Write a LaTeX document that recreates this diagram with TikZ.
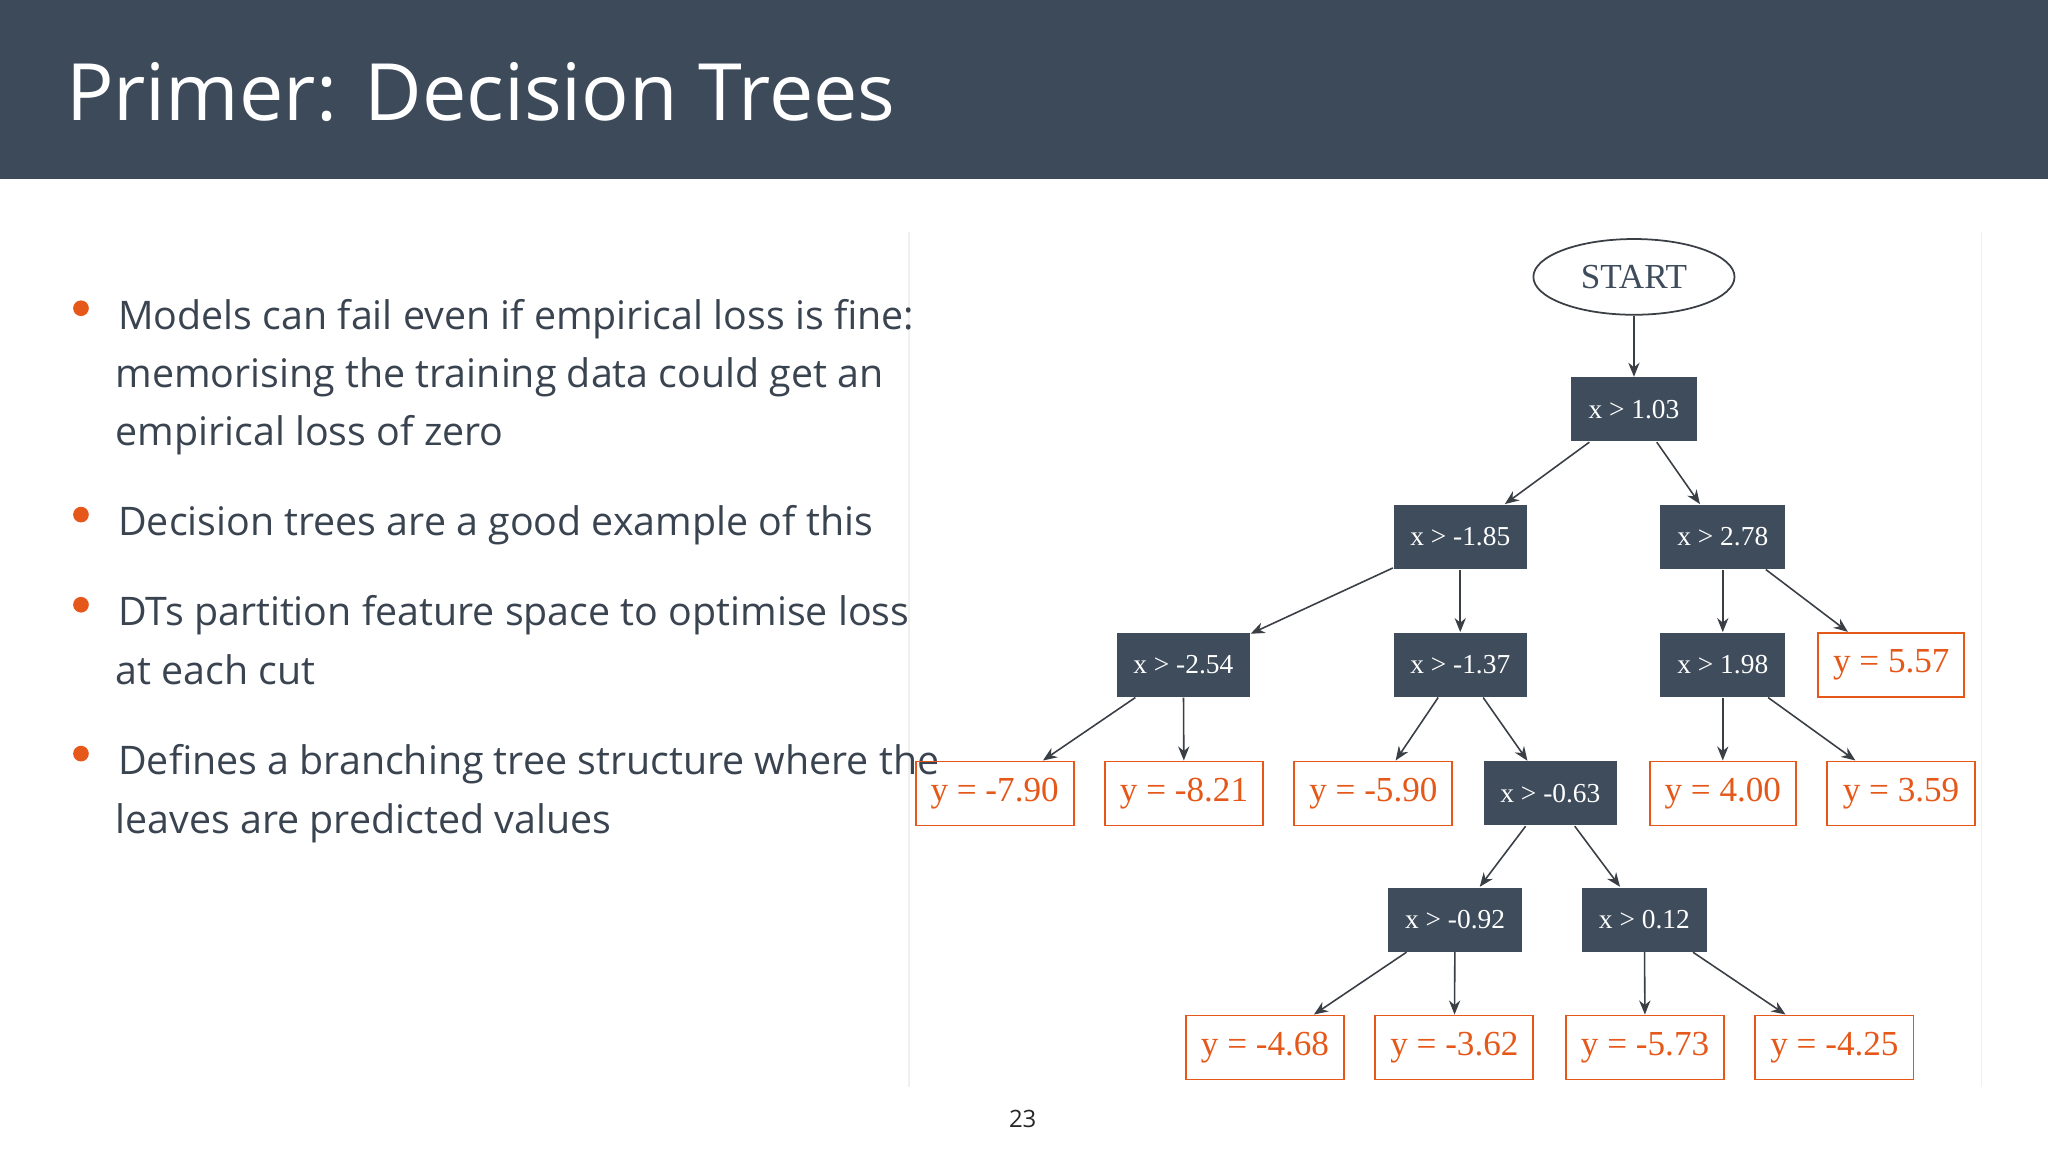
\documentclass[tikz,border=0pt]{standalone}
\usepackage{fontspec}
\setmainfont{Liberation Serif}
\newfontfamily\osans{Open Sans}
\newfontfamily\osansb{Open Sans}[FontFace={sb}{n}{* Semibold}]
\usetikzlibrary{shapes.geometric,arrows.meta}
\definecolor{hdr}{HTML}{3D4A5A}
\definecolor{boxc}{HTML}{3E4C5C}
\definecolor{org}{HTML}{E5581A}
\definecolor{txt}{HTML}{3A4450}
\definecolor{edge}{HTML}{3A3F46}
\tikzset{
 inner/.style={fill=boxc,text=white,minimum width=#1*0.01306cm,minimum height=49*0.01306cm,inner sep=0pt,font=\fontsize{7.8}{9}\selectfont},
 leaf/.style={draw=org,line width=0.55pt,text=org,minimum width=#1*0.01306cm,minimum height=49*0.01306cm,inner sep=0pt,font=\fontsize{10}{12}\selectfont},
 arr/.style={draw=edge,line width=0.45pt,-{Stealth[length=4pt,width=3.2pt]}},
 btxt/.style={anchor=base west,inner sep=0pt,text=txt,font=\osans\fontsize{11.2}{13}\selectfont},
 bdot/.style={circle,fill=org,minimum size=12*0.01306cm,inner sep=0pt}
}
\begin{document}
\begin{tikzpicture}[x=0.01306cm,y=-0.01306cm]
\useasboundingbox (0,0) rectangle (1568,882);
\fill[white] (0,0) rectangle (1568,882);
\fill[hdr] (0,0) rectangle (1568,137);
\node[anchor=base west,inner sep=0pt,text=white,font=\osansb\fontsize{22.5}{26}\selectfont] (title) at (50,92) {Primer: Decision Trees};
\draw[black!6,line width=0.5pt] (696,178) -- (696,832);
\draw[black!6,line width=0.5pt] (1517,178) -- (1517,832);
% bullets
\node[bdot] (d1) at (62,236) {};
\node[bdot] (d2) at (62,394) {};
\node[bdot] (d3) at (62,463) {};
\node[bdot] (d4) at (62,577) {};
\node[btxt] (t1) at (90,252) {Models can fail even if empirical loss is fine:};
\node[btxt] (t2) at (88,297) {memorising the training data could get an};
\node[btxt] (t3) at (88,341) {empirical loss of zero};
\node[btxt] (t4) at (90,410) {Decision trees are a good example of this};
\node[btxt] (t5) at (90,479) {DTs partition feature space to optimise loss};
\node[btxt] (t6) at (88,524) {at each cut};
\node[btxt] (t7) at (90,593) {Defines a branching tree structure where the};
\node[btxt] (t8) at (88,638) {leaves are predicted values};
\node[text=black!85,font=\osans\fontsize{6.8}{8}\selectfont] (pg) at (783,857) {23};
% tree
\node[ellipse,draw=edge,line width=0.5pt,minimum width=154*0.01306cm,minimum height=58*0.01306cm,inner sep=0pt,text=boxc,font=\fontsize{10}{12}\selectfont] (s) at (1251,212) {START};
\node[inner=96] (a) at (1251,313.5) {x > 1.03};
\node[inner=102] (b) at (1118,411) {x > -1.85};
\node[inner=96] (c) at (1319,411) {x > 2.78};
\node[inner=102] (d) at (906,509) {x > -2.54};
\node[inner=102] (e) at (1118,509) {x > -1.37};
\node[inner=96] (f) at (1319,509) {x > 1.98};
\node[leaf=112] (g) at (1448,509) {y = 5.57};
\node[leaf=121] (h) at (761.5,607.5) {y = -7.90};
\node[leaf=121] (i) at (906.5,607.5) {y = -8.21};
\node[leaf=121] (j) at (1051.5,607.5) {y = -5.90};
\node[inner=102] (k) at (1187,607.5) {x > -0.63};
\node[leaf=112] (l) at (1319,607.5) {y = 4.00};
\node[leaf=113] (m) at (1455.5,607.5) {y = 3.59};
\node[inner=102] (n) at (1114,704) {x > -0.92};
\node[inner=96] (o) at (1259,704) {x > 0.12};
\node[leaf=121] (p) at (968.5,802) {y = -4.68};
\node[leaf=121] (q) at (1113.5,802) {y = -3.62};
\node[leaf=121] (r) at (1259.5,802) {y = -5.73};
\node[leaf=121] (t) at (1404.5,802) {y = -4.25};
\foreach \u/\v in {s/a,a/b,a/c,b/d,b/e,c/f,c/g,d/h,d/i,e/j,e/k,f/l,f/m,k/n,k/o,n/p,n/q,o/r,o/t}
  \draw[arr] (\u) -- (\v);
\end{tikzpicture}
\end{document}
